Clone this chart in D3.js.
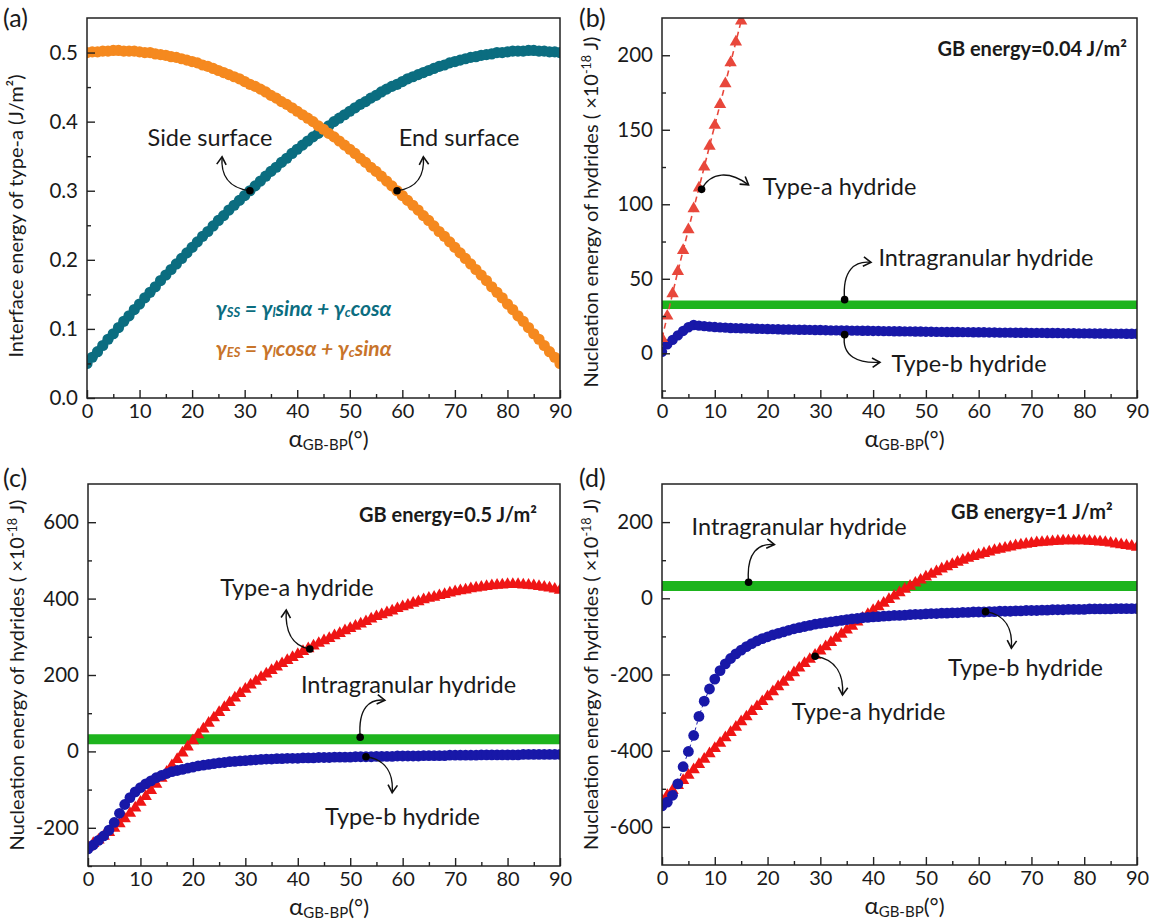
<!DOCTYPE html>
<html><head><meta charset="utf-8">
<script src="https://cdn.jsdelivr.net/npm/d3@7"></script>
<style>
body{margin:0;background:#fff}
svg{display:block}
text{font-family:Lato,"Open Sans",sans-serif;fill:#1a1a1a}
</style>
</head><body>
<svg id="chart" width="1154" height="922"></svg>
<script>
// ---------- DATA ----------
const alphaGrid = d3.range(0, 91);            // degrees, one point per degree
const xTicksMajor = [0,10,20,30,40,50,60,70,80,90];
const xTicksMinor = [5,15,25,35,45,55,65,75,85];

// (a) interface energy of type-a (J/m^2)
const sideSurface = [
 0.050,0.059,0.067,0.076,0.085,0.093,0.102,0.111,0.119,0.128,
 0.136,0.145,0.153,0.161,0.170,0.178,0.186,0.194,0.202,0.210,
 0.218,0.226,0.234,0.241,0.249,0.257,0.264,0.272,0.279,0.286,
 0.293,0.300,0.307,0.314,0.321,0.328,0.334,0.341,0.347,0.354,
 0.360,0.366,0.372,0.378,0.383,0.389,0.394,0.400,0.405,0.410,
 0.415,0.420,0.425,0.429,0.434,0.438,0.443,0.447,0.451,0.454,
 0.458,0.462,0.465,0.468,0.471,0.474,0.477,0.480,0.482,0.485,
 0.487,0.489,0.491,0.493,0.494,0.496,0.497,0.498,0.500,0.500,
 0.501,0.502,0.502,0.502,0.503,0.503,0.502,0.502,0.501,0.501,
 0.500];
const endSurface = [
 0.500,0.501,0.501,0.502,0.502,0.503,0.503,0.502,0.502,0.502,
 0.501,0.500,0.500,0.498,0.497,0.496,0.494,0.493,0.491,0.489,
 0.487,0.485,0.482,0.480,0.477,0.474,0.471,0.468,0.465,0.462,
 0.458,0.454,0.451,0.447,0.443,0.438,0.434,0.429,0.425,0.420,
 0.415,0.410,0.405,0.400,0.394,0.389,0.383,0.378,0.372,0.366,
 0.360,0.354,0.347,0.341,0.334,0.328,0.321,0.314,0.307,0.300,
 0.293,0.286,0.279,0.272,0.264,0.257,0.249,0.241,0.234,0.226,
 0.218,0.210,0.202,0.194,0.186,0.178,0.170,0.161,0.153,0.145,
 0.136,0.128,0.119,0.111,0.102,0.093,0.085,0.076,0.067,0.059,
 0.050];

// (b) GB energy = 0.04 J/m^2   (x10^-18 J)
const bTypeA = [10,25,40,55,69,83,97,111,125,139,153,167,181,195,209,223]; // alpha 0..15
const bTypeB = [
 1,6,9,12,15,17.5,19,18.6,18.2,17.9,
 17.6,17.4,17.2,17.0,16.9,16.8,16.7,16.6,16.5,16.4,
 16.3,16.2,16.1,16.0,16.0,15.9,15.8,15.8,15.7,15.6,
 15.6,15.5,15.4,15.4,15.3,15.3,15.2,15.2,15.1,15.1,
 15.0,15.0,14.9,14.9,14.8,14.8,14.7,14.7,14.6,14.6,
 14.5,14.5,14.4,14.4,14.3,14.3,14.3,14.2,14.2,14.1,
 14.1,14.1,14.0,14.0,13.9,13.9,13.9,13.8,13.8,13.8,
 13.7,13.7,13.7,13.6,13.6,13.6,13.5,13.5,13.5,13.4,
 13.4,13.4,13.3,13.3,13.3,13.2,13.2,13.2,13.1,13.1,
 13.1];

// (c) GB energy = 0.5 J/m^2
const cTypeA = [
 -250,-241,-232,-222,-212,-201,-189,-176,-162,-148,
 -133,-118,-102,-86,-70,-54,-37,-21,-4,12,
 28,44,59,74,88,102,115,128,140,152,
 163,174,184,194,203,212,221,230,238,246,
 254,262,269,276,283,290,296,303,309,316,
 322,328,334,340,347,353,358,363,368,374,
 379,383,388,392,397,401,404,408,411,415,
 418,421,423,426,428,430,432,434,435,436,
 437,437,437,436,435,434,432,430,428,425,
 422];
const cTypeB = [
 -255,-245,-233,-221,-206,-186,-162,-139,-121,-106,
 -95,-85,-77,-69,-63,-58,-53,-50,-47,-44,
 -41,-38,-36,-34,-32,-30,-29,-27,-26,-25,
 -24,-23,-22,-21,-20,-20,-19,-19,-18,-18,
 -18,-17,-17,-17,-16,-16,-16,-15,-15,-15,
 -15,-14,-14,-14,-14,-13,-13,-13,-13,-12,
 -12,-12,-12,-12,-11,-11,-11,-11,-11,-10,
 -10,-10,-10,-10,-10,-9,-9,-9,-9,-9,
 -9,-9,-9,-8,-8,-8,-8,-8,-8,-8,
 -8];

// (d) GB energy = 1 J/m^2
const dTypeA = [
 -530,-517,-504,-491,-478,-464,-450,-436,-422,-408,
 -394,-380,-366,-352,-338,-324,-311,-297,-284,-271,
 -258,-245,-232,-220,-207,-195,-183,-171,-160,-149,
 -138,-127,-116,-105,-94,-83,-73,-62,-52,-42,
 -32,-22,-13,-3,6,15,24,32,40,48,
 56,63,70,77,83,89,95,100,105,110,
 114,118,122,126,129,132,135,138,140,142,
 144,146,147,148,149,150,151,151,151,151,
 151,150,149,148,147,145,143,141,139,137,
 134];
const dTypeB = [
 -545,-535,-517,-487,-442,-402,-360,-310,-270,-238,
 -212,-190,-172,-158,-146,-136,-127,-119,-112,-106,
 -101,-96,-92,-88,-84,-80,-77,-74,-71,-68,
 -66,-64,-62,-60,-58,-56,-54,-53,-51,-50,
 -49,-48,-47,-46,-45,-45,-44,-43,-42,-42,
 -41,-40,-40,-39,-39,-38,-38,-37,-37,-36,
 -36,-36,-35,-35,-34,-34,-34,-33,-33,-32,
 -32,-32,-31,-31,-30,-30,-30,-29,-29,-29,
 -29,-28,-28,-28,-28,-28,-27,-27,-27,-27,
 -27];

// intragranular hydride (constant)
const intragranularB = 32.5;
const intragranularC = 32;
const intragranularD = 32;

// y tick values
const aYMajor = [0,0.1,0.2,0.3,0.4,0.5], aYMinor = [0.05,0.15,0.25,0.35,0.45];
const bYMajor = [0,50,100,150,200],      bYMinor = [-25,25,75,125,175];
const cYMajor = [-200,0,200,400,600],    cYMinor = [-300,-100,100,300,500];
const dYMajor = [-600,-400,-200,0,200],  dYMinor = [-500,-300,-100,100];

// ---------- STYLE ----------
const C = {teal:'#0b6d80', orange:'#f5891f', red:'#ef1515', redB:'#e8473b',
           blue:'#1818a8', green:'#1db41d'};
const LABEL_SIZE = 23.5;

const svg = d3.select('#chart');
svg.append('rect').attr('width',1154).attr('height',922).attr('fill','#fff');
const defs = svg.append('defs');

const plain = d => String(d);   // hyphen-minus like the original
const panels = [
 {key:'a', box:[87,18,560,398],  yDomain:[0,0.55],   yMaj:aYMajor, yMin:aYMinor, fmt:d=>d.toFixed(1), tag:'(a)', tagXY:[3,27],   titleDy:8},
 {key:'b', box:[662,18,1137,398], yDomain:[-30,225], yMaj:bYMajor, yMin:bYMinor, fmt:plain, tag:'(b)', tagXY:[579,27], titleDy:4},
 {key:'c', box:[88,484,560,866], yDomain:[-300,700], yMaj:cYMajor, yMin:cYMinor, fmt:plain, tag:'(c)', tagXY:[3,487],  titleDy:0},
 {key:'d', box:[662,484,1137,865], yDomain:[-700,300], yMaj:dYMajor, yMin:dYMinor, fmt:plain, tag:'(d)', tagXY:[579,487], titleDy:0}
];

function setup(p){
  const [x0,y0,x1,y1] = p.box;
  p.x = d3.scaleLinear([0,90],[x0,x1]);
  p.y = d3.scaleLinear(p.yDomain,[y1,y0]);
  p.g = svg.append('g');
  defs.append('clipPath').attr('id','clip-'+p.key).append('rect')
    .attr('x',x0).attr('y',y0).attr('width',x1-x0).attr('height',y1-y0);
  p.plot = p.g.append('g').attr('clip-path',`url(#clip-${p.key})`);
  p.over = svg.append('g');
}

function axes(p){
  const [x0,y0,x1,y1] = p.box;
  const g = p.g;
  const ax = g.append('g').attr('transform',`translate(0,${y1})`)
    .call(d3.axisBottom(p.x).tickValues(xTicksMajor).tickSizeInner(-8).tickSizeOuter(0).tickPadding(6).tickFormat(plain));
  const axm = g.append('g').attr('transform',`translate(0,${y1})`)
    .call(d3.axisBottom(p.x).tickValues(xTicksMinor).tickSizeInner(-4).tickSizeOuter(0).tickFormat(''));
  const ay = g.append('g').attr('transform',`translate(${x0},0)`)
    .call(d3.axisLeft(p.y).tickValues(p.yMaj).tickSizeInner(-8).tickSizeOuter(0).tickPadding(9).tickFormat(p.fmt));
  const aym = g.append('g').attr('transform',`translate(${x0},0)`)
    .call(d3.axisLeft(p.y).tickValues(p.yMin).tickSizeInner(-4).tickSizeOuter(0).tickFormat(''));
  [ax,axm,ay,aym].forEach(a=>{
    a.select('.domain').remove();
    a.attr('font-family','Lato, sans-serif').attr('font-size',20.5);
    a.selectAll('line').attr('stroke','#222').attr('stroke-width',1.4);
    a.selectAll('text').attr('fill','#1a1a1a');
  });
  ax.attr('font-size',20);
  // frame
  g.append('rect').attr('x',x0).attr('y',y0).attr('width',x1-x0).attr('height',y1-y0)
    .attr('fill','none').attr('stroke','#222').attr('stroke-width',1.5);
  // x title
  const xt = g.append('text').attr('x',(x0+x1)/2+5).attr('y',y1+49).attr('text-anchor','middle');
  xt.append('tspan').attr('font-size',24).text('α');
  xt.append('tspan').attr('font-size',15).attr('baseline-shift','-3').text('GB-BP');
  xt.append('tspan').attr('font-size',22).text('(°)');
  // y title
  const cy = (y0+y1)/2 + p.titleDy, cx = x0 - 64;
  const yt = g.append('text').attr('transform',`translate(${cx},${cy}) rotate(-90)`)
    .attr('text-anchor','middle').attr('font-size',20);
  if(p.key==='a'){
    yt.text('Interface energy of type-a (J/m²)');
  } else {
    yt.append('tspan').text('Nucleation energy of hydrides ( ×10');
    yt.append('tspan').attr('font-size',12.5).attr('baseline-shift','7').text('-18');
    yt.append('tspan').text(' J)');
  }
  // panel tag
  svg.append('text').attr('x',p.tagXY[0]).attr('y',p.tagXY[1]).attr('font-size',25).text(p.tag);
}

function circles(p, vals, color, r){
  p.plot.append('g').selectAll('circle').data(vals).join('circle')
    .attr('cx',(d,i)=>p.x(alphaGrid[i])).attr('cy',d=>p.y(d)).attr('r',r).attr('fill',color);
}
function triangles(p, vals, color, size){
  const sym = d3.symbol(d3.symbolTriangle, size);
  p.plot.append('g').selectAll('path').data(vals).join('path')
    .attr('transform',(d,i)=>`translate(${p.x(alphaGrid[i])},${p.y(d)})`)
    .attr('d',sym).attr('fill',color);
}
function dashLine(p, vals, color, w, dash){
  const line = d3.line().x((d,i)=>p.x(alphaGrid[i])).y(d=>p.y(d));
  p.plot.append('path').datum(vals).attr('d',line).attr('fill','none')
    .attr('stroke',color).attr('stroke-width',w).attr('stroke-dasharray',dash);
}
function band(p, value, color, w){
  p.plot.append('line').attr('x1',p.x(0)).attr('x2',p.x(90))
    .attr('y1',p.y(value)).attr('y2',p.y(value)).attr('stroke',color).attr('stroke-width',w);
}

function arrow(p, a){
  const P0 = [p.x(a.dot[0]), p.y(a.dot[1])];
  const P1 = [p.x(a.tip[0]), p.y(a.tip[1])];
  const dx = P1[0]-P0[0], dy = P1[1]-P0[1];
  let c1, c2;
  if(a.bend==='hv'){ c1=[P0[0]+0.8*dx, P0[1]+0.08*dy]; c2=[P1[0]+0.05*dx, P0[1]+0.5*dy]; }
  else if(a.bend==='vh'){ c1=[P0[0]-0.1*dx, P0[1]+0.8*dy]; c2=[P0[0]+0.4*dx, P1[1]+0.05*dy]; }
  else { c1=[P0[0]+0.2*dx, P0[1]-18]; c2=[P1[0]-0.4*dx, P1[1]-14]; }
  p.over.append('path').attr('d',`M${P0}C${c1} ${c2} ${P1}`).attr('fill','none')
    .attr('stroke','#111').attr('stroke-width',1.4);
  const ang = Math.atan2(P1[1]-c2[1], P1[0]-c2[0]);
  const L = 9, s = 0.55;
  const h1 = [P1[0]-L*Math.cos(ang-s), P1[1]-L*Math.sin(ang-s)];
  const h2 = [P1[0]-L*Math.cos(ang+s), P1[1]-L*Math.sin(ang+s)];
  p.over.append('path').attr('d',`M${h1}L${P1}L${h2}`).attr('fill','none')
    .attr('stroke','#111').attr('stroke-width',1.6).attr('stroke-linejoin','miter');
  p.over.append('circle').attr('cx',P0[0]).attr('cy',P0[1]).attr('r',3.8).attr('fill','#000');
}
function label(p, l){
  p.over.append('text').attr('x',p.x(l.at[0])).attr('y',p.y(l.at[1]))
    .attr('text-anchor',l.anchor||'start').attr('dominant-baseline','central')
    .attr('font-size',l.size||LABEL_SIZE).attr('font-weight',l.bold?'bold':null).text(l.text);
}

panels.forEach(setup);
const [PA,PB,PC,PD] = panels;

// ----- (a) -----
circles(PA, sideSurface, C.teal, 5.6);
circles(PA, endSurface, C.orange, 5.6);
// ----- (b) -----
band(PB, intragranularB, C.green, 8.5);
circles(PB, bTypeB, C.blue, 5.2);
dashLine(PB, bTypeA, C.redB, 1.6, '6,4');
triangles(PB, bTypeA, C.redB, 66);
// ----- (c) -----
band(PC, intragranularC, C.green, 10);
dashLine(PC, cTypeA, C.red, 1, '3,3');
triangles(PC, cTypeA, C.red, 66);
dashLine(PC, cTypeB, C.blue, 1, '3,3');
circles(PC, cTypeB, C.blue, 5.4);
// ----- (d) -----
band(PD, intragranularD, C.green, 10);
dashLine(PD, dTypeA, C.red, 1, '3,3');
triangles(PD, dTypeA, C.red, 66);
dashLine(PD, dTypeB, C.blue, 1, '3,3');
circles(PD, dTypeB, C.blue, 5.4);

panels.forEach(axes);

// ---------- ANNOTATIONS ----------
const annotA = [{dot:[31,0.300], tip:[25.7,0.349], bend:'hv'}, {dot:[59,0.300], tip:[64.0,0.349], bend:'hv'}];
const annotB = [{dot:[7.5,110], tip:[16.4,113], bend:'arc'}, {dot:[34.6,36], tip:[39.6,61], bend:'vh'}, {dot:[34.6,12.5], tip:[41.3,-6], bend:'vh'}];
const annotC = [{dot:[42.3,268], tip:[37.8,370], bend:'hv'}, {dot:[51.9,37], tip:[56.6,134], bend:'vh'}, {dot:[53,-14], tip:[58,-108], bend:'hv'}];
const annotD = [{dot:[16.4,42], tip:[21.3,141], bend:'vh'}, {dot:[61.3,-35], tip:[66.2,-131], bend:'hv'}, {dot:[29,-152], tip:[34.2,-254], bend:'hv'}];
annotA.forEach(a=>arrow(PA,a)); annotB.forEach(a=>arrow(PB,a));
annotC.forEach(a=>arrow(PC,a)); annotD.forEach(a=>arrow(PD,a));

[{text:'Side surface', at:[23.4,0.378], anchor:'middle'},
 {text:'End surface', at:[70.8,0.378], anchor:'middle'}].forEach(l=>label(PA,l));
[{text:'Type-a hydride', at:[19.1,112]},
 {text:'Intragranular hydride', at:[41,64.5]},
 {text:'Type-b hydride', at:[43.5,-6.5]},
 {text:'GB energy=0.04 J/m²', at:[88.1,205], anchor:'end', bold:true, size:20}].forEach(l=>label(PB,l));
[{text:'Type-a hydride', at:[25.2,431]},
 {text:'Intragranular hydride', at:[40.6,176]},
 {text:'Type-b hydride', at:[45.2,-168]},
 {text:'GB energy=0.5 J/m²', at:[85.6,621], anchor:'end', bold:true, size:20}].forEach(l=>label(PC,l));
[{text:'Intragranular hydride', at:[5.6,190]},
 {text:'Type-b hydride', at:[54.2,-181]},
 {text:'Type-a hydride', at:[24.6,-295]},
 {text:'GB energy=1 J/m²', at:[85.4,229], anchor:'end', bold:true, size:20}].forEach(l=>label(PD,l));

// formulas in (a)
function formula(p, at, color, parts){
  const t = p.over.append('text').attr('x',p.x(at[0])).attr('y',p.y(at[1]))
    .attr('dominant-baseline','central').attr('fill',color)
    .attr('font-family','"Liberation Serif", "DejaVu Serif", serif')
    .attr('font-style','italic').attr('font-weight','bold').attr('font-size',21);
  parts.forEach(([s,sub])=>{
    const ts = t.append('tspan').text(s).attr('fill',color);
    if(sub) ts.attr('font-size',13).attr('baseline-shift','-5');
  });
}
formula(PA,[24.5,0.131],C.teal,[['γ'],['SS',1],[' = γ'],['l',1],['sinα  + γ'],['c',1],['cosα']]);
formula(PA,[24.5,0.0735],'#c8742a',[['γ'],['ES',1],[' = γ'],['l',1],['cosα + γ'],['c',1],['sinα']]);
</script>
</body></html>
